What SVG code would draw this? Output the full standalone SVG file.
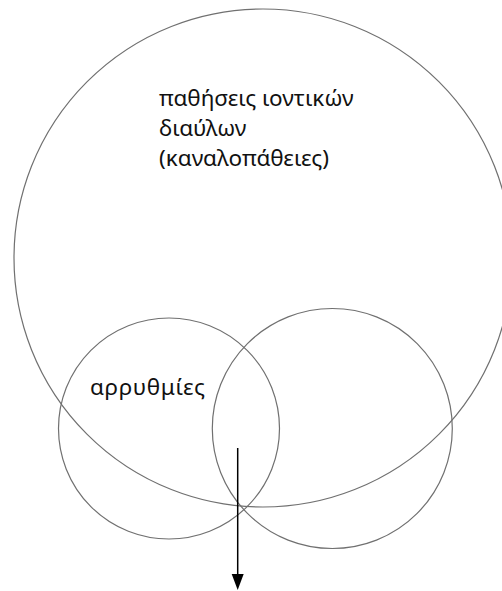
<svg xmlns="http://www.w3.org/2000/svg" width="502" height="591" viewBox="0 0 502 591">
<style>
.c{fill:none;stroke:#707070;stroke-width:1.2}
.t{font-family:"Noto Sans","Open Sans",sans-serif;font-size:22.5px;fill:#111}
.e{stroke:#000;stroke-width:1.5;fill:none}
</style>
<rect width="502" height="591" fill="#fff"/>
<g id="channelopathies">
<circle class="c" cx="263" cy="258" r="249"/>
<text class="t" x="159" y="106">παθήσεις ιοντικών</text>
<text class="t" x="159" y="136">διαύλων</text>
<text class="t" x="159" y="166">(καναλοπάθειες)</text>
</g>
<g id="arrhythmias">
<circle class="c" cx="169" cy="428.5" r="110.5"/>
<text class="t" x="90" y="395" textLength="115">αρρυθμίες</text>
</g>
<g id="right-circle">
<circle class="c" cx="332.3" cy="428.5" r="120"/>
</g>
<g id="connectors">
<line class="e" x1="237.7" y1="448" x2="237.7" y2="575"/>
<path d="M231.7,574 L243.7,574 L237.7,590 Z" fill="#000"/>
</g>
</svg>
